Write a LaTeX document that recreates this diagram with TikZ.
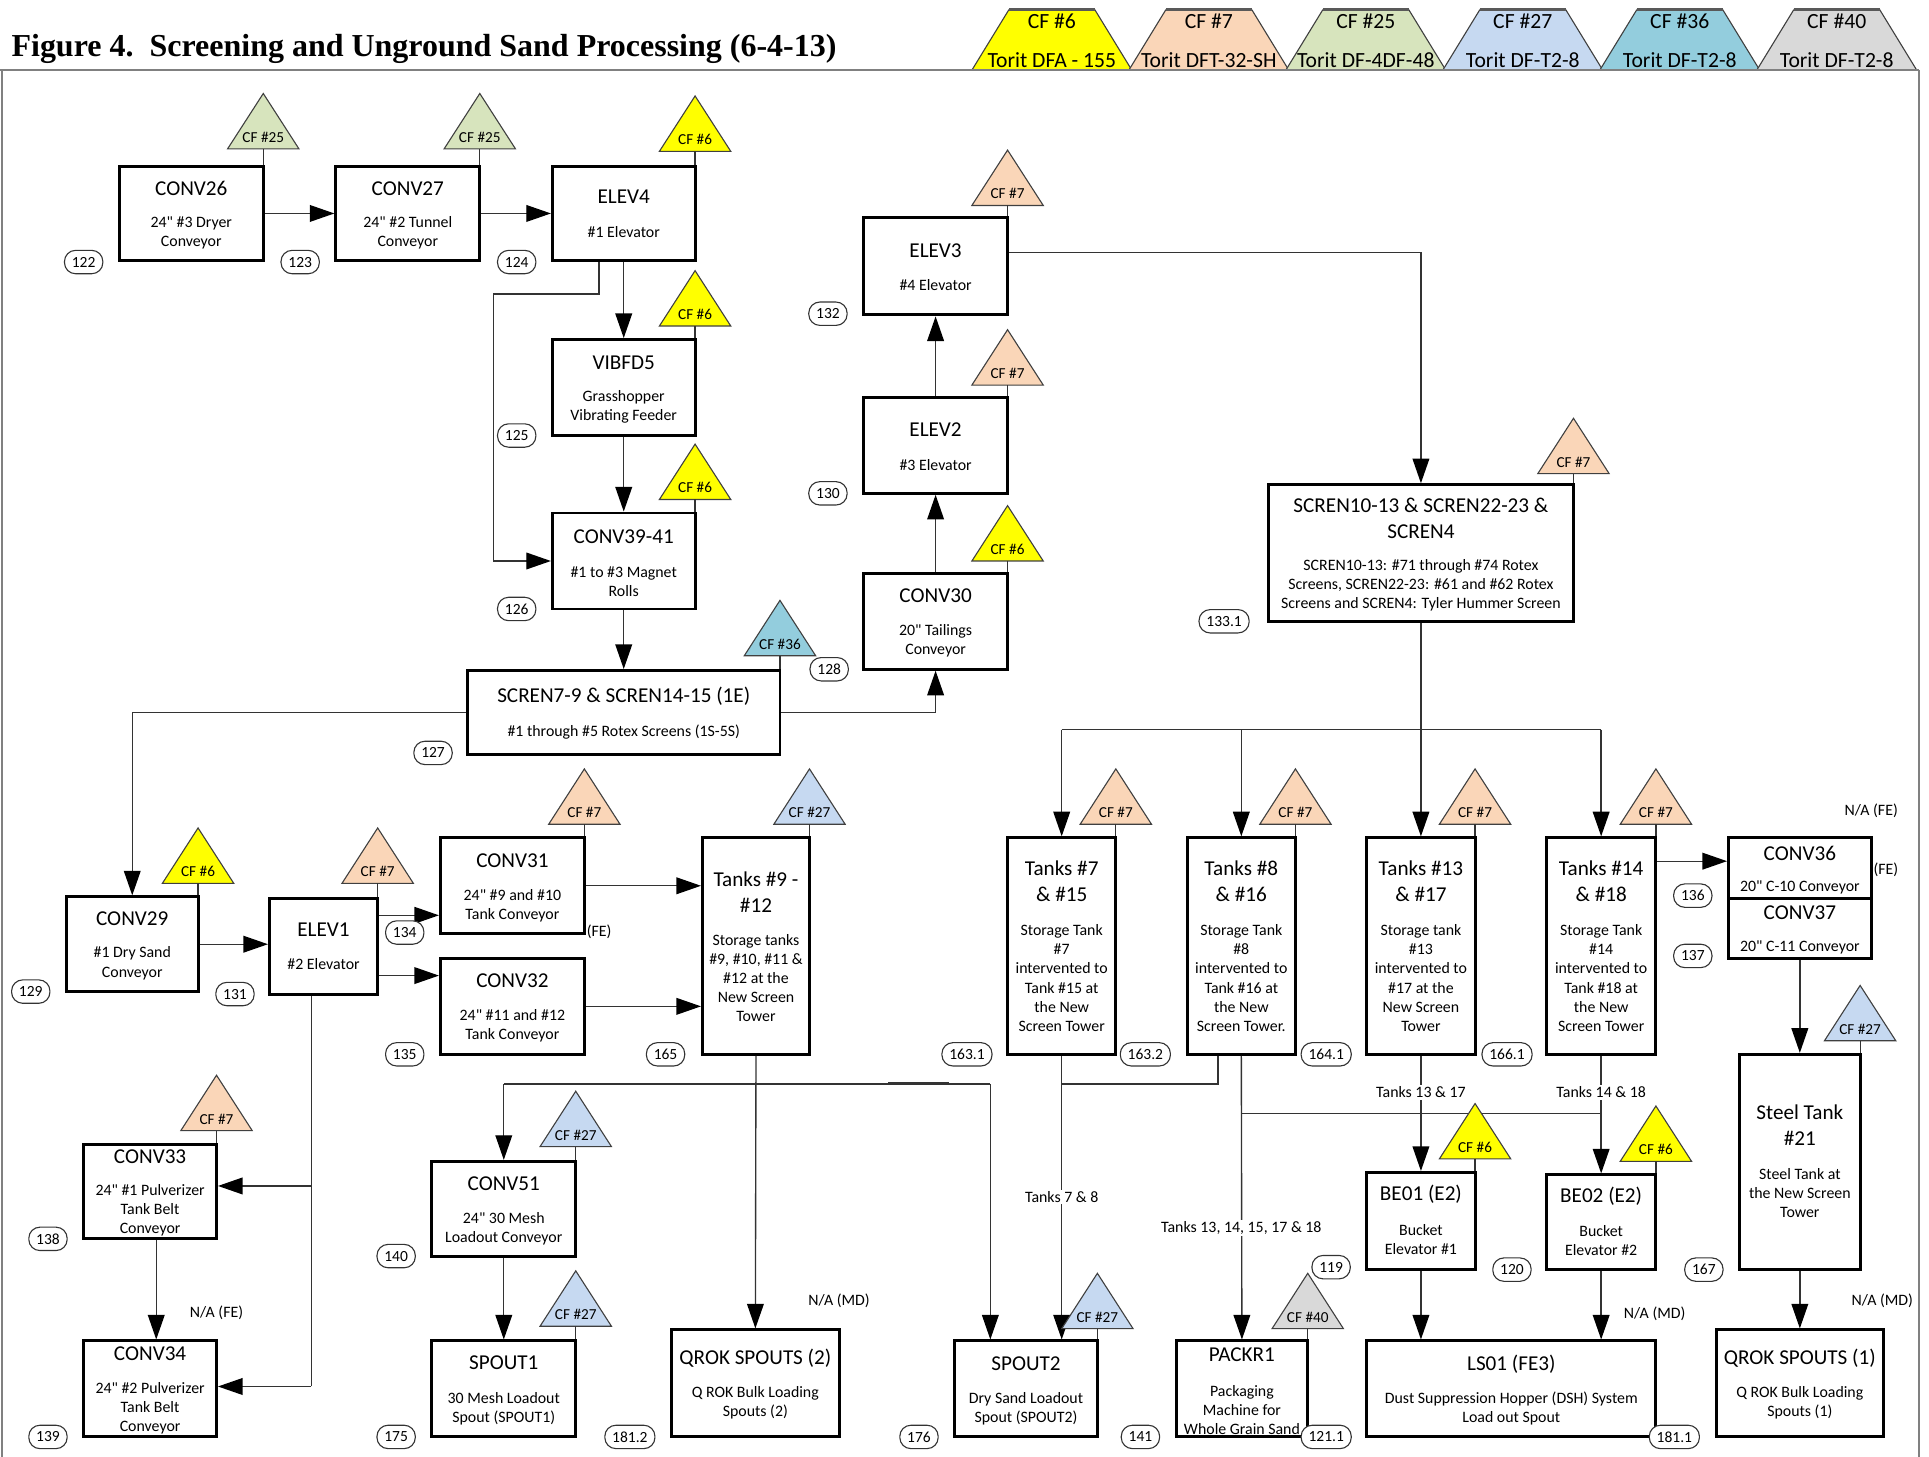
\documentclass[tikz,border=0pt]{standalone}
\usepackage{fontspec}
\setmainfont{Carlito}
% plain family without TeX ligature mapping, so that " stays a straight inch mark
\newfontfamily\bodyfont{Carlito}
\newfontfamily\headfont{Liberation Serif}
\usetikzlibrary{arrows.meta}

\definecolor{cfsix}{HTML}{FFFF00}
\definecolor{cfseven}{HTML}{FAD6B8}
\definecolor{cftwentyfive}{HTML}{D7E4BD}
\definecolor{cftwentyseven}{HTML}{C6D9F1}
\definecolor{cfthirtysix}{HTML}{93CDDD}
\definecolor{cfforty}{HTML}{D9D9D9}

% equipment box: name, x1, y1, x2, y2, title y, title, sub-text y, sub-text
\newcommand\eqbox[9]{%
  \pgfmathsetmacro\eqcx{(#2+#4)/2}%
  \pgfmathsetmacro\eqcy{(#3+#5)/2}%
  \pgfmathsetmacro\eqw{(#4-#2)/2}%
  \pgfmathsetmacro\eqh{(#5-#3)/2}%
  \node[eqframe, minimum width=\eqw pt, minimum height=\eqh pt] (#1) at (\eqcx,\eqcy) {};
  \node[eqtitle] (#1-t) at (\eqcx,#6) {#7};
  \node[eqsub] (#1-s) at (\eqcx,#8) {#9};
}

% control-device triangle: name, x, base y, colour, text
\newcommand\cfmark[5]{%
  \filldraw[cfedge, fill=#4] ({#2-29},#3) -- (#2,{#3-45}) -- ({#2+29},#3) -- cycle;
  \node[cftext] (#1) at (#2,{#3-9.5}) {#5};
  \coordinate (#1-foot) at (#2,#3);
}

% legend trapezoid: name, left x, colour, device, model
\newcommand\legendcf[5]{%
  \filldraw[legedge, fill=#3] (#2,57) -- ({#2+30},8) -- ({#2+100},8) -- ({#2+130},57);
  \draw[legtop] ({#2+30},8) -- ({#2+100},8);
  \node[legtext] (#1-a) at ({#2+65},17.5) {#4};
  \node[legtext] (#1-b) at ({#2+65},48.5) {#5};
}

\begin{document}
\begin{tikzpicture}[x=0.5pt,y=-0.5pt,
  eqframe/.style={draw=black, line width=1.2pt, fill=white, inner sep=0pt},
  eqtitle/.style={font=\bodyfont\fontsize{8.6}{10.5}\selectfont, align=center, inner sep=0pt},
  eqsub/.style={font=\bodyfont\fontsize{6.45}{7.75}\selectfont, align=center, inner sep=0pt},
  cfedge/.style={draw=black!75, line width=0.45pt},
  cftext/.style={font=\bodyfont\fontsize{6.2}{7}\selectfont, inner sep=0pt},
  legedge/.style={draw=black!75, line width=0.45pt},
  legtop/.style={draw=black!65, line width=1.3pt},
  legtext/.style={font=\bodyfont\fontsize{8.8}{10}\selectfont, inner sep=0pt},
  frameline/.style={draw=black!50, line width=0.9pt},
  conn/.style={draw=black!80, line width=0.55pt},
  flow/.style={conn, -{Triangle[length=10pt,width=6.8pt,color=black]}},
  stem/.style={draw=black!80, line width=0.5pt},
  tag/.style={draw=black!80, line width=0.45pt, fill=white, rounded corners=4.5pt,
    font=\bodyfont\fontsize{6.3}{7}\selectfont, inner xsep=3pt, inner ysep=0pt, minimum height=9.5pt},
  note/.style={font=\bodyfont\fontsize{6.45}{7.5}\selectfont, inner sep=0.6pt},
  notebg/.style={note, fill=white},
]
\useasboundingbox (0,0) rectangle (1568,1184);

% ---------- heading and legend ----------
\node[anchor=base west, inner sep=0pt, font=\headfont\bfseries\fontsize{13}{15}\selectfont]
  (figtitle) at (9,46) {Figure 4.\ \ Screening and Unground Sand Processing (6-4-13)};

\legendcf{lg6}{790}{cfsix}{CF \#6}{Torit DFA - 155}
\legendcf{lg7}{917.6}{cfseven}{CF \#7}{Torit DFT-32-SH}
\legendcf{lg25}{1045.2}{cftwentyfive}{CF \#25}{Torit DF-4DF-48}
\legendcf{lg27}{1172.8}{cftwentyseven}{CF \#27}{Torit DF-T2-8}
\legendcf{lg36}{1300.4}{cfthirtysix}{CF \#36}{Torit DF-T2-8}
\legendcf{lg40}{1428}{cfforty}{CF \#40}{Torit DF-T2-8}

\draw[frameline] (0,57) -- (1560,57);
\draw[frameline] (1.5,57) -- (1.5,1190);
\draw[frameline] (1560,57) -- (1560,1190);

% ---------- equipment ----------
\eqbox{conv26}{97}{135}{214}{212}{153}{CONV26}{189.5}{24" \#3 Dryer\\Conveyor}
\eqbox{conv27}{273}{135}{390}{212}{153}{CONV27}{189.5}{24" \#2 Tunnel\\Conveyor}
\eqbox{elev4}{449}{135}{565}{212}{160}{ELEV4}{189}{\#1 Elevator}
\eqbox{vibfd5}{449}{276}{565}{354}{295}{VIBFD5}{330.5}{Grasshopper\\Vibrating Feeder}
\eqbox{conv39}{449}{417}{565}{495}{436}{CONV39-41}{472.5}{\#1 to \#3 Magnet\\Rolls}
\eqbox{scren7}{380}{545}{634}{613}{566}{SCREN7-9 \& SCREN14-15 (1E)}{595}{\#1 through \#5 Rotex Screens (1S-5S)}
\eqbox{elev3}{702}{177}{819}{256}{203.5}{ELEV3}{232}{\#4 Elevator}
\eqbox{elev2}{702}{323}{819}{401}{349.5}{ELEV2}{378}{\#3 Elevator}
\eqbox{conv30}{702}{466}{819}{544}{484.5}{CONV30}{521}{20" Tailings\\Conveyor}
\eqbox{scren10}{1031}{394}{1279}{505}{421.4}{SCREN10-13 \& SCREN22-23 \&\\SCREN4}{476}{SCREN10-13: \#71 through \#74 Rotex\\Screens, SCREN22-23: \#61 and \#62 Rotex\\Screens and SCREN4: Tyler Hummer Screen}

\eqbox{tank7}{819}{681}{907}{857}{716.5}{Tanks \#7\\\& \#15}{795}{Storage Tank\\\#7\\intervented to\\Tank \#15 at\\the New\\Screen Tower}
\eqbox{tank8}{965}{681}{1053}{857}{716.5}{Tanks \#8\\\& \#16}{795}{Storage Tank\\\#8\\intervented to\\Tank \#16 at\\the New\\Screen Tower.}
\eqbox{tank13}{1111}{681}{1199}{857}{716.5}{Tanks \#13\\\& \#17}{795}{Storage tank\\\#13\\intervented to\\\#17 at the\\New Screen\\Tower}
\eqbox{tank14}{1257}{681}{1346}{857}{716.5}{Tanks \#14\\\& \#18}{795}{Storage Tank\\\#14\\intervented to\\Tank \#18 at\\the New\\Screen Tower}
\eqbox{conv36}{1405}{681}{1521}{730}{693.5}{CONV36}{721}{20" C-10 Conveyor}
\eqbox{conv37}{1405}{730}{1521}{779}{741.5}{CONV37}{770}{20" C-11 Conveyor}
\eqbox{steel}{1414}{857}{1512}{1032}{914.5}{Steel Tank\\\#21}{970}{Steel Tank at\\the New Screen\\Tower}
\eqbox{qrok1}{1395}{1081}{1531}{1168}{1104}{QROK SPOUTS (1)}{1140}{Q ROK Bulk Loading\\Spouts (1)}

\eqbox{conv29}{54}{729}{161}{806}{746.5}{CONV29}{783}{\#1 Dry Sand\\Conveyor}
\eqbox{elev1}{219}{730}{307}{808}{755.5}{ELEV1}{784}{\#2 Elevator}
\eqbox{conv31}{358}{681}{475}{759}{700}{CONV31}{736.5}{24" \#9 and \#10\\Tank Conveyor}
\eqbox{conv32}{358}{779}{475}{857}{797.5}{CONV32}{833.5}{24" \#11 and \#12\\Tank Conveyor}
\eqbox{tank9}{571}{681}{658}{857}{725}{Tanks \#9 -\\\#12}{795}{Storage tanks\\\#9, \#10, \#11 \&\\\#12 at the\\New Screen\\Tower}
\eqbox{conv33}{68}{930}{176}{1007}{940.5}{CONV33}{984}{24" \#1 Pulverizer\\Tank Belt\\Conveyor}
\eqbox{conv34}{68}{1090}{176}{1168}{1100}{CONV34}{1144.5}{24" \#2 Pulverizer\\Tank Belt\\Conveyor}
\eqbox{conv51}{351}{944}{468}{1021}{962.5}{CONV51}{999}{24" 30 Mesh\\Loadout Conveyor}
\eqbox{spout1}{351}{1090}{468}{1168}{1108}{SPOUT1}{1145}{30 Mesh Loadout\\Spout (SPOUT1)}
\eqbox{qrok2}{546}{1081}{682}{1168}{1104}{QROK SPOUTS (2)}{1140}{Q ROK Bulk Loading\\Spouts (2)}
\eqbox{spout2}{776}{1090}{892}{1168}{1108.5}{SPOUT2}{1145}{Dry Sand Loadout\\Spout (SPOUT2)}
\eqbox{packr1}{956}{1090}{1063}{1168}{1101}{PACKR1}{1146}{Packaging\\Machine for\\Whole Grain Sand}
\eqbox{be01}{1111}{953}{1199}{1032}{971}{BE01 (E2)}{1007.5}{Bucket\\Elevator \#1}
\eqbox{be02}{1257}{955}{1346}{1032}{972}{BE02 (E2)}{1008.5}{Bucket\\Elevator \#2}
\eqbox{ls01}{1111}{1090}{1346}{1168}{1108.5}{LS01 (FE3)}{1145}{Dust Suppression Hopper (DSH) System\\Load out Spout}

% ---------- material flow ----------
\draw[flow] (conv26.east) -- (conv27.west);
\draw[flow] (conv27.east) -- (elev4.west);
\draw[flow] (elev4.south) -- (vibfd5.north);
\draw[flow] (vibfd5.south) -- (conv39.north);
\draw[flow] (487,0 |- elev4.south) |- (401,239) |- (conv39.west);
\draw[flow] (conv39.south) -- (scren7.north);
\draw[flow] (scren7.east) -| (conv30.south);
\draw[flow] (scren7.west) -| (conv29.north);
\draw[flow] (conv30.north) -- (elev2.south);
\draw[flow] (elev2.north) -- (elev3.south);
\draw[flow] (elev3.east |- 0,205) -| (scren10.north);

\coordinate (split) at (scren10.south |- 0,593);
\draw[conn] (scren10.south) -- (split);
\draw[conn] (tank7.north |- split) -- (tank14.north |- split);
\foreach \t in {tank7,tank8,tank13,tank14}
  \draw[flow] (\t.north |- split) -- (\t.north);

\draw[flow] (tank14.east |- 0,700) -- (conv36.west |- 0,700);
\draw[flow] (conv37.south) -- (steel.north);
\draw[flow] (steel.south) -- (qrok1.north);

\draw[flow] (conv29.east) -- (conv29.east -| elev1.west);
\draw[flow] (elev1.east |- 0,744) -- (conv31.west |- 0,744);
\draw[flow] (elev1.east |- 0,793) -- (conv32.west |- 0,793);
\draw[flow] (conv31.east) -- (conv31.east -| tank9.west);
\draw[flow] (conv32.east) -- (conv32.east -| tank9.west);

\coordinate (e1drop) at (253,0 |- elev1.south);
\coordinate (e1a) at (e1drop |- 0,964);
\coordinate (e1b) at (e1drop |- 0,1127);
\draw[conn] (e1drop) -- (e1b);
\draw[flow] (e1a) -- (e1a -| conv33.east);
\draw[flow] (e1b) -- (e1b -| conv34.east);
\draw[flow] (127,0 |- conv33.south) -- (127,0 |- conv34.north);

\draw[flow] (tank9.south) -- (qrok2.north);
\coordinate (loadL) at (conv51.north |- 0,881);
\coordinate (loadR) at (805,881);
\draw[conn] (loadL) -- (loadR);
\draw[conn, line width=1.1pt] (722,881) -- (771,881);
\draw[flow] (loadL) -- (conv51.north);
\draw[flow] (loadR) -- (loadR |- spout2.north);
\draw[flow] (conv51.south) -- (spout1.north);

\draw[flow] (tank7.south) -- (tank7.south |- spout2.north);
\draw[conn] (990,0 |- tank8.south) |- (tank7.south |- 0,881);
\draw[flow] (tank8.south) -- (packr1.north);
\draw[conn] (tank8.south |- 0,905) -- (tank14.south |- 0,905);
\draw[flow] (tank13.south) -- (be01.north);
\draw[flow] (tank14.south) -- (be02.north);
\draw[flow] (be01.south) -- (be01.south |- ls01.north);
\draw[flow] (be02.south) -- (be02.south |- ls01.north);

% ---------- control devices ----------
\cfmark{cf-conv26}{214}{121}{cftwentyfive}{CF \#25}
\cfmark{cf-conv27}{390}{121}{cftwentyfive}{CF \#25}
\cfmark{cf-elev4}{565}{123}{cfsix}{CF \#6}
\cfmark{cf-vibfd5}{565}{265}{cfsix}{CF \#6}
\cfmark{cf-conv39}{565}{406}{cfsix}{CF \#6}
\cfmark{cf-elev3}{819}{167}{cfseven}{CF \#7}
\cfmark{cf-elev2}{819}{313}{cfseven}{CF \#7}
\cfmark{cf-conv30}{819}{456}{cfsix}{CF \#6}
\cfmark{cf-scren7}{634}{533}{cfthirtysix}{CF \#36}
\cfmark{cf-scren10}{1279}{385}{cfseven}{CF \#7}
\cfmark{cf-tank7}{907}{670}{cfseven}{CF \#7}
\cfmark{cf-tank8}{1053}{670}{cfseven}{CF \#7}
\cfmark{cf-tank13}{1199}{670}{cfseven}{CF \#7}
\cfmark{cf-tank14}{1346}{670}{cfseven}{CF \#7}
\cfmark{cf-tank9}{658}{670}{cftwentyseven}{CF \#27}
\cfmark{cf-conv31}{475}{670}{cfseven}{CF \#7}
\cfmark{cf-conv29}{161}{718}{cfsix}{CF \#6}
\cfmark{cf-elev1}{307}{718}{cfseven}{CF \#7}
\cfmark{cf-conv33}{176}{919}{cfseven}{CF \#7}
\cfmark{cf-conv51}{468}{932}{cftwentyseven}{CF \#27}
\cfmark{cf-spout1}{468}{1078}{cftwentyseven}{CF \#27}
\cfmark{cf-spout2}{892}{1080}{cftwentyseven}{CF \#27}
\cfmark{cf-packr1}{1063}{1080}{cfforty}{CF \#40}
\cfmark{cf-be01}{1199}{942}{cfsix}{CF \#6}
\cfmark{cf-be02}{1346}{944}{cfsix}{CF \#6}
\cfmark{cf-steel}{1512}{846}{cftwentyseven}{CF \#27}

\foreach \u in {conv26,conv27,elev4,vibfd5,conv39,elev3,elev2,conv30,scren7,scren10,
                tank7,tank8,tank13,tank14,tank9,conv31,conv29,elev1,conv33,conv51,
                spout1,spout2,packr1,be01,be02,steel}
  \draw[stem] (cf-\u-foot) -- (cf-\u-foot |- \u.north);

% ---------- stream numbers ----------
\node[tag] (s122) at (68,213) {122};
\node[tag] (s123) at (244,213) {123};
\node[tag] (s124) at (420,213) {124};
\node[tag] (s125) at (420,354) {125};
\node[tag] (s126) at (420,495) {126};
\node[tag] (s132) at (673,255) {132};
\node[tag] (s130) at (673,401) {130};
\node[tag] (s128) at (674,544) {128};
\node[tag] (s127) at (352,612) {127};
\node[tag] (s133-1) at (995,505) {133.1};
\node[tag] (s129) at (25,806) {129};
\node[tag] (s131) at (191,808) {131};
\node[tag] (s134) at (329,758) {134};
\node[tag] (s135) at (329,857) {135};
\node[tag] (s165) at (541,857) {165};
\node[tag] (s163-1) at (786,857) {163.1};
\node[tag] (s163-2) at (931,857) {163.2};
\node[tag] (s164-1) at (1078,857) {164.1};
\node[tag] (s166-1) at (1225,857) {166.1};
\node[tag] (s136) at (1376,728) {136};
\node[tag] (s137) at (1376,777) {137};
\node[tag] (s138) at (39,1007) {138};
\node[tag] (s139) at (39,1168) {139};
\node[tag] (s140) at (322,1021) {140};
\node[tag] (s175) at (322,1168) {175};
\node[tag] (s181-2) at (512,1168) {181.2};
\node[tag] (s176) at (747,1168) {176};
\node[tag] (s141) at (927,1168) {141};
\node[tag] (s119) at (1082,1030) {119};
\node[tag] (s121-1) at (1078,1168) {121.1};
\node[tag] (s120) at (1229,1032) {120};
\node[tag] (s181-1) at (1361,1168) {181.1};
\node[tag] (s167) at (1385,1032) {167};

% ---------- notes ----------
\node[note] (n1) at (176,1067) {N/A (FE)};
\node[note] (n2) at (682,1057) {N/A (MD)};
\node[note] (n3) at (1345,1068) {N/A (MD)};
\node[note] (n4) at (1530,1057) {N/A (MD)};
\node[note] (n5) at (1521,659) {N/A (FE)};
\node[note] (n6) at (1533,707) {(FE)};
\node[note] (n7) at (487,757) {(FE)};
\node[notebg] (n8) at (863,973) {Tanks 7 \& 8};
\node[notebg] (n9) at (1009,998) {Tanks 13, 14, 15, 17 \& 18};
\node[notebg] (n10) at (1155,888) {Tanks 13 \& 17};
\node[notebg] (n11) at (1301.5,888) {Tanks 14 \& 18};
\end{tikzpicture}
\end{document}
